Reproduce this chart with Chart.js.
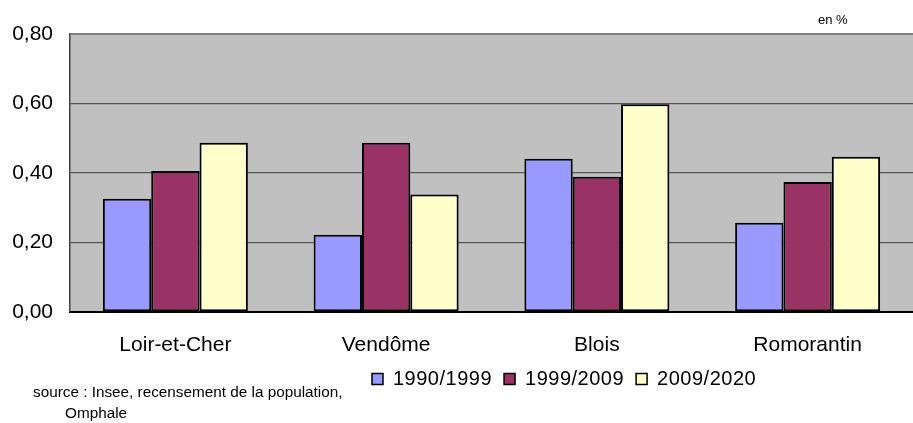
<!DOCTYPE html>
<html>
<head>
<meta charset="utf-8">
<script src="https://cdn.jsdelivr.net/npm/chart.js@4.4.0/dist/chart.umd.min.js"></script>
<style>
html,body{margin:0;padding:0;background:#fff;}
#wrap{position:relative;width:913px;height:423px;}
</style>
</head>
<body>
<div id="wrap"><canvas id="c" width="913" height="423"></canvas></div>
<script>
const categories = ["Loir-et-Cher", "Vendôme", "Blois", "Romorantin"];
const seriesNames = ["1990/1999", "1999/2009", "2009/2020"];
const values1990 = [0.326, 0.222, 0.441, 0.257];
const values1999 = [0.406, 0.487, 0.389, 0.374];
const values2009 = [0.487, 0.338, 0.598, 0.447];
const yTicks = [0, 0.2, 0.4, 0.6, 0.8];
const unitLabel = "en %";
const sourceLines = ["source : Insee, recensement de la population,", "Omphale"];

const colors = ["#9999FF", "#993366", "#FFFFCC"];
const FONT = "'Liberation Sans', Arial, sans-serif";

const bgPlugin = {
  id: 'bg',
  beforeDraw(chart) {
    const {ctx, chartArea: a} = chart;
    ctx.save();
    ctx.fillStyle = '#C0C0C0';
    ctx.fillRect(a.left, a.top, a.right - a.left, a.bottom - a.top);
    ctx.restore();
  },
  afterDraw(chart) {
    const ctx = chart.ctx;
    ctx.save();
    ctx.fillStyle = '#000';
    ctx.textBaseline = 'middle';
    ctx.textAlign = 'left';
    ctx.font = '13px ' + FONT;
    ctx.fillText(unitLabel, 818, 20, 34);
    ctx.font = '15.3px ' + FONT;
    ctx.fillText(sourceLines[0], 33, 393, 310);
    ctx.fillText(sourceLines[1], 65, 414);
    // legend
    try { ctx.letterSpacing = '0.5px'; } catch (e) {}
    ctx.font = '20px ' + FONT;
    let x = 372;
    const y = 379;
    chart.data.datasets.forEach((ds) => {
      ctx.fillStyle = ds.backgroundColor;
      ctx.fillRect(x, y - 5.5, 11, 11);
      ctx.strokeStyle = '#000';
      ctx.lineWidth = 1.5;
      ctx.strokeRect(x, y - 5.5, 11, 11);
      ctx.fillStyle = '#000';
      ctx.fillText(ds.label, x + 21, y);
      x += 21 + ctx.measureText(ds.label).width + 12;
    });
    ctx.restore();
  }
};

new Chart(document.getElementById('c'), {
  type: 'bar',
  data: {
    labels: categories,
    datasets: [
      {label: seriesNames[0], data: values1990, backgroundColor: colors[0]},
      {label: seriesNames[1], data: values1999, backgroundColor: colors[1]},
      {label: seriesNames[2], data: values2009, backgroundColor: colors[2]}
    ].map(d => Object.assign(d, {borderColor: '#000', borderWidth: 2, borderSkipped: false, barPercentage: 1, categoryPercentage: 0.688}))
  },
  options: {
    responsive: false,
    animation: false,
    devicePixelRatio: 1,
    layout: {padding: {top: 34, left: 0, right: 0, bottom: 0}},
    plugins: {legend: {display: false}, tooltip: {enabled: false}},
    scales: {
      x: {
        grid: {display: false, drawTicks: false},
        border: {display: true, color: '#000', width: 2},
        ticks: {font: {family: FONT, size: 21}, color: '#000', padding: 21},
        afterFit(s) { s.height = 111; }
      },
      y: {
        min: 0, max: 0.8,
        afterBuildTicks(s) { s.ticks = yTicks.map(v => ({value: v})); },
        grid: {
          drawTicks: false,
          color: c => (c.tick && c.tick.value >= 0.8) ? '#808080' : '#555555',
          lineWidth: c => (c.tick && c.tick.value >= 0.8) ? 2 : 1.3
        },
        border: {display: true, color: '#404040', width: 1.5},
        ticks: {
          font: {family: FONT, size: 21}, color: '#000', padding: 17,
          callback: v => v.toFixed(2).replace('.', ',')
        },
        afterFit(s) { s.width = 70; }
      }
    }
  },
  plugins: [bgPlugin]
});
</script>
</body>
</html>
